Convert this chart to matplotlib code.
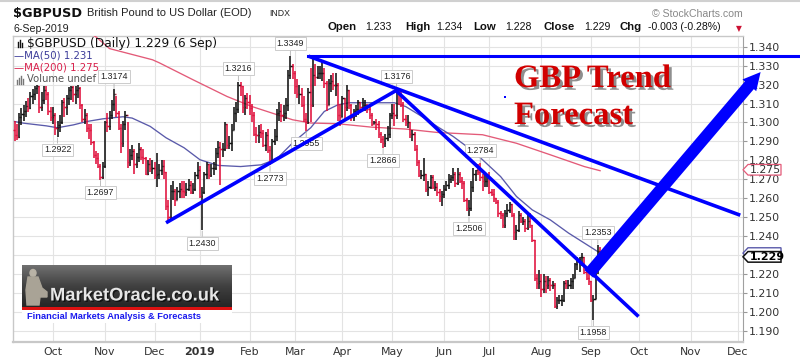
import numpy as np
import pandas as pd
import matplotlib
matplotlib.use('Agg')
import matplotlib.pyplot as plt
from matplotlib.patches import Polygon, Rectangle, Ellipse
from matplotlib.colors import LinearSegmentedColormap
import matplotlib.patheffects as pe
import matplotlib.transforms as mtransforms

# ------------------------------------------------------------------ data
start_date = '2018-09-06'
holidays = ['2018-12-25', '2019-01-01', '2019-12-25']
first_open = 1.2960

closes = [
    1.2935, 1.2925,
    1.3030, 1.3045, 1.3060, 1.3085, 1.3075,
    1.3140, 1.3150, 1.3180, 1.3190, 1.3080,
    1.3120, 1.3170, 1.3150, 1.3060, 1.3030,
    1.3040, 1.2970, 1.2985, 1.3000, 1.3110,
    1.3080, 1.3130, 1.3170, 1.3185, 1.3150,
    1.3170, 1.3180, 1.3090, 1.3020, 1.3040,
    1.2970, 1.2960, 1.2895, 1.2830, 1.2810,
    1.2770, 1.2710, 1.2770, 1.3000, 1.2980,
    1.3040, 1.3100, 1.3150, 1.3050, 1.2970,
    1.2890, 1.2990, 1.3040, 1.2790, 1.2830,
    1.2850, 1.2780, 1.2820, 1.2860, 1.2820,
    1.2810, 1.2730, 1.2780, 1.2760, 1.2760,
    1.2720, 1.2730, 1.2750, 1.2770, 1.2740,
    1.2560, 1.2500, 1.2640, 1.2640, 1.2590,
    1.2640, 1.2650, 1.2640, 1.2630, 1.2650,
    1.2670, 1.2630, 1.2650, 1.2720,
    1.2750, 1.2610, 1.2630, 1.2730,
    1.2780, 1.2720, 1.2760, 1.2760, 1.2840,
    1.2870, 1.2860, 1.2860, 1.2990, 1.2880,
    1.2890, 1.2960, 1.3050, 1.3070, 1.3200,
    1.3190, 1.3080, 1.3130, 1.3110, 1.3075,
    1.3040, 1.2940, 1.2935, 1.2950, 1.2945,
    1.2880, 1.2935, 1.2855, 1.2790, 1.2900,
    1.2930, 1.3050, 1.3060, 1.3040, 1.3050,
    1.3090, 1.3250, 1.3300, 1.3260, 1.3190,
    1.3150, 1.3150, 1.3090, 1.3020, 1.3000,
    1.3160, 1.3090, 1.3250, 1.3240, 1.3260,
    1.3260, 1.3260, 1.3210, 1.3090, 1.3210,
    1.3220, 1.3200, 1.3200, 1.3040, 1.3030,
    1.3130, 1.3080, 1.3170, 1.3090, 1.3030,
    1.3060, 1.3070, 1.3110, 1.3080, 1.3090,
    1.3090, 1.3070, 1.3040, 1.2990, 1.3000,
    1.2990, 1.2940, 1.2910, 1.2890, 1.2920,
    1.2940, 1.3040, 1.3050, 1.3040, 1.3170,
    1.3150, 1.3100, 1.3020, 1.3000, 1.3000,
    1.2940, 1.2940, 1.2860, 1.2790, 1.2720,
    1.2720, 1.2730, 1.2650, 1.2660, 1.2710,
    1.2660, 1.2660, 1.2630, 1.2610, 1.2620,
    1.2650, 1.2670, 1.2700, 1.2710, 1.2730,
    1.2680, 1.2730, 1.2690, 1.2680, 1.2590,
    1.2550, 1.2550, 1.2660, 1.2730, 1.2750,
    1.2740, 1.2710, 1.2690, 1.2690, 1.2710,
    1.2630, 1.2620, 1.2600, 1.2580, 1.2520,
    1.2510, 1.2460, 1.2520, 1.2540, 1.2570,
    1.2510, 1.2420, 1.2430, 1.2510, 1.2480,
    1.2480, 1.2440, 1.2480, 1.2460, 1.2380,
    1.2180, 1.2150, 1.2160, 1.2120, 1.2160,
    1.2140, 1.2170, 1.2140, 1.2140, 1.2030,
    1.2060, 1.2060, 1.2060, 1.2150, 1.2140,
    1.2140, 1.2160, 1.2180, 1.2250, 1.2280,
    1.2290, 1.2290, 1.2210, 1.2180, 1.2160,
    1.2060, 1.2070, 1.2220, 1.2320, 1.2290,
]

highs = [
    1.3010, 1.2990,
    1.3050, 1.3075, 1.3090, 1.3115, 1.3130,
    1.3160, 1.3175, 1.3195, 1.3198, 1.3195,
    1.3160, 1.3190, 1.3195, 1.3160, 1.3080,
    1.3080, 1.3050, 1.3010, 1.3040, 1.3120,
    1.3130, 1.3145, 1.3185, 1.3195, 1.3195,
    1.3190, 1.3198, 1.3185, 1.3100, 1.3070,
    1.3050, 1.2990, 1.2990, 1.2900, 1.2850,
    1.2840, 1.2780, 1.2790, 1.3010, 1.3050,
    1.3060, 1.3120, 1.3174, 1.3140, 1.3060,
    1.2990, 1.3010, 1.3060, 1.3000, 1.2860,
    1.2880, 1.2860, 1.2840, 1.2890, 1.2870,
    1.2860, 1.2820, 1.2800, 1.2810, 1.2800,
    1.2790, 1.2840, 1.2780, 1.2800, 1.2800,
    1.2740, 1.2590, 1.2670, 1.2690, 1.2650,
    1.2660, 1.2680, 1.2690, 1.2690, 1.2680,
    1.2700, 1.2690, 1.2680, 1.2740,
    1.2790, 1.2770, 1.2660, 1.2740,
    1.2790, 1.2780, 1.2780, 1.2790, 1.2865,
    1.2900, 1.2895, 1.2890, 1.3000, 1.2990,
    1.2930, 1.2990, 1.3080, 1.3110, 1.3216,
    1.3215, 1.3195, 1.3145, 1.3155, 1.3145,
    1.3095, 1.3055, 1.2975, 1.2985, 1.2990,
    1.2960, 1.2950, 1.2965, 1.2875, 1.2915,
    1.2965, 1.3070, 1.3110, 1.3100, 1.3090,
    1.3130, 1.3275, 1.3349, 1.3310, 1.3270,
    1.3230, 1.3200, 1.3180, 1.3140, 1.3050,
    1.3180, 1.3290, 1.3340, 1.3310, 1.3300,
    1.3300, 1.3320, 1.3290, 1.3220, 1.3230,
    1.3250, 1.3260, 1.3260, 1.3210, 1.3100,
    1.3140, 1.3130, 1.3200, 1.3170, 1.3100,
    1.3070, 1.3090, 1.3120, 1.3110, 1.3130,
    1.3120, 1.3100, 1.3090, 1.3050, 1.3010,
    1.3020, 1.3010, 1.2950, 1.2930, 1.2940,
    1.2980, 1.3050, 1.3100, 1.3100, 1.3176,
    1.3170, 1.3170, 1.3110, 1.3040, 1.3040,
    1.3000, 1.2960, 1.2950, 1.2880, 1.2800,
    1.2750, 1.2810, 1.2730, 1.2690, 1.2720,
    1.2720, 1.2690, 1.2680, 1.2650, 1.2640,
    1.2670, 1.2690, 1.2730, 1.2720, 1.2760,
    1.2740, 1.2760, 1.2740, 1.2710, 1.2690,
    1.2600, 1.2590, 1.2690, 1.2760, 1.2750,
    1.2780, 1.2784, 1.2730, 1.2720, 1.2720,
    1.2740, 1.2650, 1.2650, 1.2600, 1.2590,
    1.2530, 1.2520, 1.2540, 1.2570, 1.2580,
    1.2570, 1.2520, 1.2460, 1.2530, 1.2520,
    1.2500, 1.2490, 1.2520, 1.2520, 1.2460,
    1.2380, 1.2200, 1.2220, 1.2200, 1.2200,
    1.2190, 1.2190, 1.2180, 1.2160, 1.2150,
    1.2080, 1.2090, 1.2090, 1.2160, 1.2170,
    1.2170, 1.2180, 1.2200, 1.2260, 1.2290,
    1.2290, 1.2310, 1.2290, 1.2220, 1.2210,
    1.2160, 1.2090, 1.2230, 1.2353, 1.2340,
]

lows = [
    1.2900, 1.2905,
    1.2920, 1.2985, 1.3010, 1.3030, 1.3055,
    1.3070, 1.3100, 1.3120, 1.3150, 1.3050,
    1.3060, 1.3100, 1.3120, 1.3040, 1.3010,
    1.2990, 1.2935, 1.2922, 1.2950, 1.2990,
    1.3030, 1.3040, 1.3090, 1.3120, 1.3110,
    1.3100, 1.3130, 1.3070, 1.3000, 1.2990,
    1.2950, 1.2910, 1.2880, 1.2810, 1.2780,
    1.2760, 1.2697, 1.2700, 1.2760, 1.2950,
    1.2960, 1.3020, 1.3060, 1.3030, 1.2960,
    1.2840, 1.2870, 1.2960, 1.2760, 1.2770,
    1.2800, 1.2730, 1.2760, 1.2790, 1.2800,
    1.2780, 1.2720, 1.2720, 1.2740, 1.2730,
    1.2700, 1.2660, 1.2700, 1.2720, 1.2700,
    1.2540, 1.2478, 1.2490, 1.2590, 1.2560,
    1.2590, 1.2600, 1.2600, 1.2600, 1.2610,
    1.2640, 1.2620, 1.2620, 1.2640,
    1.2700, 1.2600, 1.2430, 1.2620,
    1.2700, 1.2700, 1.2710, 1.2720, 1.2750,
    1.2810, 1.2670, 1.2820, 1.2850, 1.2860,
    1.2860, 1.2850, 1.2960, 1.3000, 1.3050,
    1.3140, 1.3050, 1.3040, 1.3070, 1.3040,
    1.3000, 1.2930, 1.2890, 1.2890, 1.2920,
    1.2870, 1.2850, 1.2840, 1.2773, 1.2790,
    1.2880, 1.2900, 1.3010, 1.3000, 1.3010,
    1.3020, 1.3060, 1.3230, 1.3230, 1.3150,
    1.3130, 1.3100, 1.3080, 1.3000, 1.2955,
    1.2990, 1.3000, 1.3080, 1.3190, 1.3230,
    1.3230, 1.3220, 1.3180, 1.3060, 1.3090,
    1.3160, 1.3170, 1.3140, 1.3010, 1.2980,
    1.3030, 1.3010, 1.3060, 1.3070, 1.3010,
    1.3010, 1.3030, 1.3040, 1.3060, 1.3060,
    1.3060, 1.3050, 1.3020, 1.2980, 1.2990,
    1.2960, 1.2920, 1.2890, 1.2866, 1.2870,
    1.2900, 1.2920, 1.3020, 1.2980, 1.3020,
    1.3090, 1.3080, 1.3000, 1.2980, 1.2970,
    1.2920, 1.2900, 1.2850, 1.2770, 1.2710,
    1.2700, 1.2690, 1.2630, 1.2610, 1.2650,
    1.2650, 1.2640, 1.2610, 1.2580, 1.2556,
    1.2600, 1.2640, 1.2650, 1.2680, 1.2690,
    1.2660, 1.2670, 1.2680, 1.2650, 1.2580,
    1.2530, 1.2506, 1.2530, 1.2630, 1.2690,
    1.2720, 1.2690, 1.2640, 1.2660, 1.2660,
    1.2620, 1.2610, 1.2580, 1.2570, 1.2500,
    1.2490, 1.2440, 1.2440, 1.2500, 1.2520,
    1.2500, 1.2380, 1.2380, 1.2420, 1.2470,
    1.2460, 1.2420, 1.2430, 1.2440, 1.2370,
    1.2160, 1.2120, 1.2120, 1.2080, 1.2100,
    1.2100, 1.2120, 1.2110, 1.2120, 1.2020,
    1.2015, 1.2040, 1.2030, 1.2050, 1.2120,
    1.2120, 1.2120, 1.2120, 1.2180, 1.2220,
    1.2210, 1.2240, 1.2200, 1.2170, 1.2140,
    1.2050, 1.1958, 1.2070, 1.2200, 1.2280,
]

ma50_dates = ['2018-09-06', '2018-09-12', '2018-09-26', '2018-10-03', '2018-10-12',
              '2018-10-22', '2018-10-31', '2018-11-13', '2018-11-19', '2018-11-29',
              '2018-12-10', '2018-12-20', '2019-01-02', '2019-01-14', '2019-01-28',
              '2019-02-08', '2019-02-14', '2019-02-20', '2019-02-28', '2019-03-12',
              '2019-03-20', '2019-03-28', '2019-04-04', '2019-04-18', '2019-05-02',
              '2019-05-09', '2019-05-17', '2019-05-29', '2019-06-07', '2019-06-17',
              '2019-06-26', '2019-07-08', '2019-07-17', '2019-07-26', '2019-08-07',
              '2019-08-19', '2019-08-28', '2019-09-06']
ma50_vals = [1.3005, 1.2996, 1.2982, 1.2972, 1.2987,
             1.3005, 1.3019, 1.3030, 1.3023, 1.2979,
             1.2919, 1.2866, 1.2803, 1.2773, 1.2767,
             1.2776, 1.2794, 1.2820, 1.2892, 1.2972,
             1.3058, 1.3093, 1.3104, 1.3104, 1.3104,
             1.3084, 1.3040, 1.2978, 1.2926, 1.2873,
             1.2803, 1.2714, 1.2609, 1.2538, 1.2485,
             1.2416, 1.2363, 1.2310]

ma200_dates = ['2018-09-06', '2018-10-10', '2018-10-26', '2018-11-05', '2018-11-30',
               '2018-12-05', '2018-12-27', '2019-01-18', '2019-02-04', '2019-02-28',
               '2019-03-12', '2019-03-28', '2019-04-18', '2019-05-09', '2019-05-29',
               '2019-06-26', '2019-07-17', '2019-08-07', '2019-08-28', '2019-09-06']
ma200_vals = [1.3640, 1.3530, 1.3452, 1.3390, 1.3331,
              1.3315, 1.3225, 1.3137, 1.3084, 1.3014,
              1.2997, 1.2993, 1.2975, 1.2965, 1.2947,
              1.2935, 1.2890, 1.2829, 1.2767, 1.2745]

extreme_dates = ['2018-10-03', '2018-10-30', '2018-11-07', '2019-01-03', '2019-01-25',
                 '2019-02-14', '2019-02-27', '2019-03-08', '2019-04-25', '2019-05-03',
                 '2019-06-18', '2019-06-25', '2019-09-03', '2019-09-05']
extreme_vals = [1.2922, 1.2697, 1.3174, 1.2430, 1.3216,
                1.2773, 1.3349, 1.2955, 1.2866, 1.3176,
                1.2506, 1.2784, 1.1958, 1.2353]
extreme_kind = ['low', 'low', 'high', 'low', 'high',
                'low', 'high', 'low', 'low', 'high',
                'low', 'high', 'low', 'high']

# hand-drawn trend lines: (date, price) pairs
trend_lines = [
    (('2018-12-10', 1.2470), ('2019-05-03', 1.3170)),
    (('2019-03-11', 1.3350), ('2019-12-03', 1.2510)),
    (('2019-05-03', 1.3165), ('2019-10-01', 1.1975)),
]
resistance_level = 1.3350
resistance_start = '2019-03-11'
arrow_tail = ('2019-08-30', 1.2200)
arrow_tip = ('2019-12-16', 1.3266)

month_labels = ['Oct', 'Nov', 'Dec', '2019', 'Feb', 'Mar', 'Apr', 'May', 'Jun',
                'Jul', 'Aug', 'Sep', 'Oct', 'Nov', 'Dec']
ytick_vals = [1.190, 1.200, 1.210, 1.220, 1.230, 1.240, 1.250, 1.260, 1.270, 1.280,
              1.290, 1.300, 1.310, 1.320, 1.330, 1.340]
last_close, ma50_last, ma200_last = 1.229, 1.231, 1.275

# ------------------------------------------------------------------ calendar
days = pd.bdate_range(start_date, '2020-02-28')
days = days[~days.isin(pd.to_datetime(holidays))]


def xi(d):
    return days.get_loc(pd.Timestamp(d))


n = len(closes)
x = np.arange(n)
closes_a = np.array(closes)
opens_a = np.concatenate([[first_open], closes_a[:-1]])
highs_a = np.array(highs)
lows_a = np.array(lows)

W, H = 800, 359
fig = plt.figure(figsize=(W / 100, H / 100), dpi=100)
fig.patch.set_facecolor('white')
plt.rcParams['font.family'] = ['DejaVu Sans']

L, R, T, B = 13, 743, 36, 342
ax = fig.add_axes([L / W, 1 - B / H, (R - L) / W, (B - T) / H])

# x scale: first trading day of Oct-2018 at px 53, of Dec-2019 at px 738
month_starts = []
for m in pd.period_range('2018-10', '2019-12', freq='M'):
    sel = days[(days.year == m.year) & (days.month == m.month)]
    month_starts.append(days.get_loc(sel[0]))
k0, k1 = month_starts[0], month_starts[-1]
ppd = (738 - 53) / (k1 - k0)
xmin = k0 - (53 - L) / ppd
xmax = k1 + (R - 738) / ppd
ax.set_xlim(xmin, xmax)
ppu = (330.7 - 46.7) / 0.150
ax.set_ylim(1.340 - (B - 46.7) / ppu, 1.340 + (46.7 - T) / ppu)

# grid
ax.set_axisbelow(True)
ax.grid(True, color='#e3e3e3', lw=0.8)
ax.set_yticks(ytick_vals)
ax.set_yticklabels(['' if abs(v - 1.230) < 1e-9 else f'{v:.3f}' for v in ytick_vals])
ax.set_xticks(month_starts)
ax.set_xticklabels(month_labels)
for t in ax.get_xticklabels():
    if t.get_text() == '2019':
        t.set_fontweight('bold')
        t.set_color('#222222')
ax.yaxis.tick_right()
ax.tick_params(axis='y', length=3, color='#999999', labelsize=7.9,
               labelcolor='#333333', pad=1.5)
ax.tick_params(axis='x', length=0, labelsize=7.9, labelcolor='#333333', pad=3.5)
for s in ['left', 'top', 'bottom']:
    ax.spines[s].set_color('#c8c8c8')
    ax.spines[s].set_linewidth(1.0)
ax.spines['bottom'].set_linewidth(1.6)
ax.spines['right'].set_color('#a0a0a0')

# moving averages
ax.plot([xi(d) for d in ma200_dates], ma200_vals, color='#e35a78', lw=0.95, zorder=3)
ax.plot([xi(d) for d in ma50_dates], ma50_vals, color='#5a5aaa', lw=0.95, zorder=3)

# OHLC bars
up = closes_a >= opens_a
cols = np.where(up, '#111111', '#e0103c')
ax.vlines(x, lows_a, highs_a, colors=cols, lw=1.15, zorder=4)
ax.hlines(opens_a, x - 0.55, x, colors=cols, lw=1.0, zorder=4)
ax.hlines(closes_a, x, x + 0.55, colors=cols, lw=1.0, zorder=4)

# extreme value labels
for d, v, kind in zip(extreme_dates, extreme_vals, extreme_kind):
    off = 9.2 if kind == 'high' else -9.2
    ax.annotate(f'{v:.4f}', xy=(xi(d), v), xytext=(0, off), textcoords='offset points',
                ha='center', va='center', fontsize=6.4, family='Liberation Sans',
                color='#222222',
                bbox=dict(boxstyle='square,pad=0.22', fc='white', ec='#c4c4c4', lw=0.6),
                arrowprops=dict(arrowstyle='-', color='#b0b0b0', lw=0.6,
                                shrinkA=0, shrinkB=0.5),
                zorder=6)

# trend lines
blue = '#0000ff'
for (d0, p0), (d1, p1) in trend_lines:
    ax.plot([xi(d0), xi(d1)], [p0, p1], color=blue, lw=2.6, solid_capstyle='butt',
            zorder=7, clip_on=False)
x_fig_edge = xmax + (W - R) / ppd
ax.plot([xi(resistance_start), x_fig_edge], [resistance_level] * 2, color=blue, lw=2.2,
        zorder=7, clip_on=False)

# big forecast arrow
ax.annotate('', xy=(xi(arrow_tip[0]), arrow_tip[1]),
            xytext=(xi(arrow_tail[0]), arrow_tail[1]),
            arrowprops=dict(arrowstyle='simple,head_length=1.25,head_width=1.3,tail_width=0.85',
                            fc=blue, ec=blue, lw=0, shrinkA=0, shrinkB=0,
                            mutation_scale=10),
            annotation_clip=False, zorder=8)

# right-side value tags
btr = mtransforms.blended_transform_factory(ax.transAxes, ax.transData)
pxw = 1 / (R - L)
hh = 5.3 / ppu


def tag(val, ec, lw, text, bold=False, tcolor='#333333', z=9):
    pts = [(1 + 0 * pxw, val), (1 + 5 * pxw, val + hh), (1 + 38 * pxw, val + hh),
           (1 + 38 * pxw, val - hh), (1 + 5 * pxw, val - hh)]
    ax.add_patch(Polygon(pts, closed=True, fc='white', ec=ec, lw=lw, transform=btr,
                         clip_on=False, zorder=z))
    if text:
        ax.text(1 + 6.5 * pxw, val, text, transform=btr, ha='left', va='center',
                fontsize=7.9, color=tcolor, fontweight='bold' if bold else 'normal',
                zorder=z + 0.5, clip_on=False)


tag(ma200_last, '#e35a78', 0.9, f'{ma200_last:.3f}')
tag(ma50_last, '#5a5aaa', 1.0, None, z=9)          # hidden behind the close tag
tag(last_close, '#111111', 1.1, f'{last_close:.3f}', bold=True, tcolor='#000000', z=10)

# ------------------------------------------------------------------ overlay (pixel coords)
ov = fig.add_axes([0, 0, 1, 1], zorder=20)
ov.set_xlim(0, W)
ov.set_ylim(H, 0)
ov.axis('off')
ov.patch.set_alpha(0)

ov.plot([0, W], [1, 1], color='#d0d0d0', lw=1.5)

# header
ov.text(13, 13, '$GBPUSD', fontsize=9.3, fontweight='bold', va='center', color='#111111')
ov.text(87, 13, 'British Pound to US Dollar (EOD)', fontsize=8, family='Liberation Sans',
        va='center', color='#222222')
ov.text(269, 13.5, 'INDX', fontsize=6.3, family='Liberation Sans', va='center',
        color='#222222')
ov.text(13, 29, '6-Sep-2019', fontsize=7.7, family='Liberation Sans', va='center',
        color='#222222')
ov.text(743, 14, '\u00a9 StockCharts.com', fontsize=7.6, family='Liberation Sans',
        ha='right', va='center', color='#888888')
hdr = [('Open', 328, True), ('1.233', 365, False), ('High', 405, True),
       ('1.234', 436, False), ('Low', 473, True), ('1.228', 505, False),
       ('Close', 543, True), ('1.229', 584, False), ('Chg', 620, True),
       ('-0.003 (-0.28%)', 648, False)]
for s, px, bold in hdr:
    ov.text(px, 27.5, s, fontsize=8.2 if bold else 7.6, family='Liberation Sans',
            fontweight='bold' if bold else 'normal', va='center', color='#111111')
ov.text(739, 28.5, '\u25bc', fontsize=5.5, ha='center', va='center', color='#cc1133')

# legend
for i, hgt in enumerate([5, 7, 4]):
    ov.plot([18 + 2.2 * i, 18 + 2.2 * i], [47, 47 - hgt], color='#111111', lw=1.0)
ov.text(27, 44, '$GBPUSD (Daily) 1.229 (6 Sep)', fontsize=8.8, va='center',
        color='#111111')
ov.text(14, 56, '\u2014MA(50) 1.231', fontsize=7.3, va='center', color='#3b3b99')
ov.text(14, 67.5, '\u2014MA(200) 1.275', fontsize=7.3, va='center', color='#d81e4a')
for i, hgt in enumerate([4, 6, 8, 5]):
    ov.plot([17 + 2.0 * i, 17 + 2.0 * i], [84, 84 - hgt], color='#777777', lw=1.0)
ov.text(27, 79.5, 'Volume undef', fontsize=7.2, va='center', color='#555555', zorder=1)

# title text
red = '#d10000'
shadow = [pe.SimplePatchShadow(offset=(2, -2), shadow_rgbFace='#333333', alpha=0.55),
          pe.Normal()]
ov.text(514, 87, 'GBP Trend', fontsize=23.5, family='Liberation Serif', fontweight='bold',
        color=red, va='baseline', path_effects=shadow)
ov.text(514, 124, 'Forecast', fontsize=23.5, family='Liberation Serif', fontweight='bold',
        color=red, va='baseline', path_effects=shadow)
ov.add_patch(Rectangle((504, 96), 2.2, 2.2, color=blue, lw=0))

# MarketOracle logo
grad = np.linspace(0, 1, 60).reshape(-1, 1)
cmap = LinearSegmentedColormap.from_list('g', ['#707070', '#404040', '#262626'])
ov.imshow(grad, extent=(22, 232, 307, 265), origin='upper', cmap=cmap, aspect='auto',
          zorder=1)
ov.add_patch(Rectangle((22, 306.5), 210, 3.5, color='#dd1111', lw=0, zorder=2))
ov.add_patch(Rectangle((22, 310), 210, 12.5, color='white', lw=0, zorder=2))
ov.text(50, 300.5, 'MarketOracle.co.uk', fontsize=13.2, family='Liberation Sans',
        fontweight='bold', color='#e6e6e6', va='baseline', zorder=3,
        path_effects=[pe.SimplePatchShadow(offset=(1, -1), shadow_rgbFace='black',
                                           alpha=0.6), pe.Normal()])
ov.text(27, 316.5, 'Financial Markets Analysis & Forecasts', fontsize=6.7,
        family='Liberation Sans', fontweight='bold', color='#1a1aee', va='center',
        zorder=3)
# statue silhouette
ov.add_patch(Ellipse((33, 273), 6, 7, color='#b9b3a6', zorder=3))
ov.add_patch(Polygon([(28, 277), (38, 277), (42, 288), (47, 292), (47, 297),
                      (40, 297), (39, 305), (27, 305), (26, 290)], closed=True,
                     color='#a9a396', zorder=3))

fig.savefig('out.png', dpi=100, facecolor='white')
